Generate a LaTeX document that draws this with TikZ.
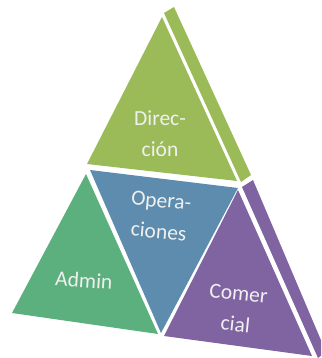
\documentclass[tikz,border=0pt]{standalone}
\usepackage{fontspec}
\setmainfont{Carlito}
\definecolor{dirgreen}{HTML}{9BBB59}
\definecolor{admgreen}{HTML}{5BB07D}
\definecolor{opblue}{HTML}{5D8CAE}
\definecolor{compurple}{HTML}{8064A2}
\begin{document}
\begin{tikzpicture}[x=1pt,y=-1pt,
    face/.style={line join=round},
    lbl/.style={text=white!94!black,align=center,inner sep=0pt,font=\fontsize{21.5}{31}\selectfont}]
    \useasboundingbox (0,0) rectangle (321,358);
    \clip (0,0) rectangle (321,358);
    % top face and its side
    \fill[dirgreen,face] (162,17) -- (87,164) -- (237,181) -- cycle;
    \fill[dirgreen,face] (164,13) -- (174,7) -- (251,175) -- (241,182) -- cycle;
    % middle and corners
    \fill[opblue,face] (90,170) -- (238,188) -- (161,333) -- cycle;
    \fill[admgreen,face] (86,174) -- (12,313) -- (158,334) -- cycle;
    \fill[compurple,face] (238,190) -- (164,336) -- (312,356) -- cycle;
    \fill[compurple,face] (242,187) -- (253,180) -- (326,352) -- (318,358) -- cycle;
    \node[lbl] (direccion) at (160,134) {Direc-\\ción};
    \node[lbl,rotate=-5] (operaciones) at (160,216) {Opera-\\ciones};
    \node[lbl,rotate=-4] (admin) at (84,280) {Admin};
    \node[lbl,rotate=-6] (comercial) at (237,309) {Comer\\cial};
\end{tikzpicture}
\end{document}
